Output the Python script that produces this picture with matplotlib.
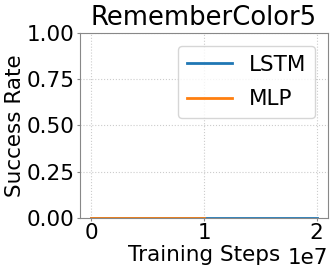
import matplotlib
matplotlib.use('Agg')
import matplotlib.pyplot as plt

# data
lstm_steps = [0, 0.5e7, 1.0e7, 1.5e7, 2.0e7]
lstm_success = [0.0, 0.0, 0.0, 0.0, 0.0]
mlp_steps = [0, 0.5e7, 1.0e7]
mlp_success = [0.0, 0.0, 0.0]

plt.rcParams['font.size'] = 15.5

fig, ax = plt.subplots(figsize=(3.32, 2.71), dpi=100)
ax.plot(lstm_steps, lstm_success, color='#1f77b4', label='LSTM', linewidth=2)
ax.plot(mlp_steps, mlp_success, color='#ff7f0e', label='MLP', linewidth=2)

ax.set_title('RememberColor5', pad=6)
ax.set_xlabel('Training Steps', labelpad=1)
ax.set_ylabel('Success Rate', labelpad=1)
ax.set_ylim(0, 1)
ax.set_yticks([0, 0.25, 0.5, 0.75, 1.0])
ax.grid(True, linestyle=':', color='#cccccc')
ax.tick_params(length=2.5, pad=1.5, color='#888888')
for s in ax.spines.values():
    s.set_color('#888888')
ax.legend(loc='upper right', labelspacing=0.68, borderaxespad=0.6,
          handlelength=2.1)

fig.subplots_adjust(left=0.241, right=0.988, top=0.878, bottom=0.196)
fig.savefig('out.png', dpi=100)
